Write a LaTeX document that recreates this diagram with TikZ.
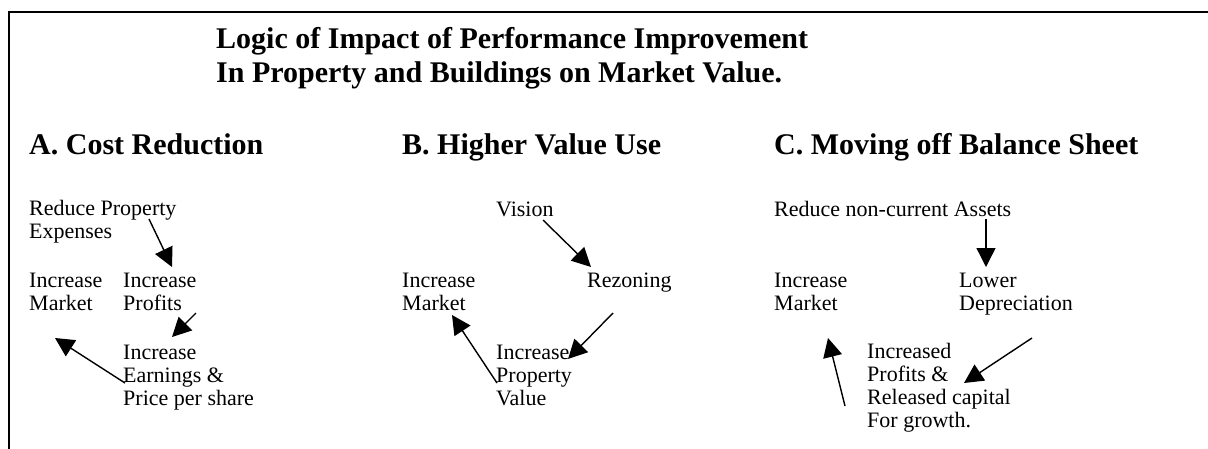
\documentclass[tikz,border=0pt]{standalone}
\usepackage{fontspec}
\setmainfont{Liberation Serif}
\usetikzlibrary{arrows.meta}

\begin{document}
\begin{tikzpicture}[x=1pt, y=-1pt,
    lbl/.style={anchor=base west, inner sep=0pt, align=left, font=\fontsize{22}{23}\selectfont},
    hd/.style={anchor=base west, inner sep=0pt, align=left, font=\fontsize{30}{34}\selectfont\bfseries},
    arr/.style={-{Triangle[length=19pt, width=19pt]}, line width=1.4pt}]
  \useasboundingbox (0,0) rectangle (1208,448);

  % Frame (top and left edges only)
  \draw[line width=2pt] (9,450) -- (9,12) -- (1210,12);

  % Title (base = last line)
  \node[hd] (title) at (216,82) {Logic of Impact of Performance Improvement\\In Property and Buildings on Market Value.};

  % Column headings
  \node[hd] (hdA) at (29,154) {A. Cost Reduction};
  \node[hd] (hdB) at (402,154) {B. Higher Value Use};
  \node[hd] (hdC) at (774,154) {C. Moving off Balance Sheet};

  % A. Cost reduction chain
  \node[lbl] (redexp) at (29,238) {Reduce Property\\Expenses};
  \node[lbl] (mktA) at (29,310) {Increase\\Market};
  \node[lbl] (profits) at (123,310) {Increase\\Profits};
  \node[lbl] (earn) at (123,405) {Increase\\Earnings \&\\Price per share};
  \coordinate (a1s) at (149,219);
  \coordinate (a1e) at (172,267);
  \coordinate (a2s) at (196,313);
  \coordinate (a2e) at (172,337);
  \coordinate (a3s) at (125,383);
  \coordinate (a3e) at (55,338);
  \draw[arr] (a1s) -- (a1e);
  \draw[arr] (a2s) -- (a2e);
  \draw[arr] (a3s) -- (a3e);

  % B. Higher value use cycle
  \node[lbl] (vision) at (496,216) {Vision};
  \node[lbl] (rezone) at (587,287) {Rezoning};
  \node[lbl] (mktB) at (402,310) {Increase\\Market};
  \node[lbl] (propval) at (496,405) {Increase\\Property\\Value};
  \coordinate (b1s) at (543,220);
  \coordinate (b1e) at (591,267);
  \coordinate (b2s) at (613,313);
  \coordinate (b2e) at (568,359);
  \coordinate (b3s) at (497,383);
  \coordinate (b3e) at (452,315);
  \draw[arr] (b1s) -- (b1e);
  \draw[arr] (b2s) -- (b2e);
  \draw[arr] (b3s) -- (b3e);

  % C. Moving off balance sheet
  \node[lbl] (redass) at (774,216) {Reduce non-current Assets};
  \node[lbl] (mktC) at (774,310) {Increase\\Market};
  \node[lbl] (deprec) at (959,310) {Lower\\Depreciation};
  \node[lbl] (released) at (867,427) {Increased\\Profits \&\\Released capital\\For growth.};
  \coordinate (c1s) at (986,219);
  \coordinate (c1e) at (986,267);
  \coordinate (c2s) at (1032,338);
  \coordinate (c2e) at (964,383);
  \coordinate (c3s) at (845,406);
  \coordinate (c3e) at (828,338);
  \draw[arr] (c1s) -- (c1e);
  \draw[arr] (c2s) -- (c2e);
  \draw[arr] (c3s) -- (c3e);
\end{tikzpicture}
\end{document}
